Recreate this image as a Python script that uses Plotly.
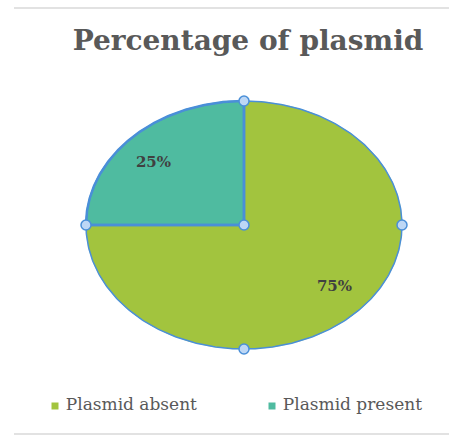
import numpy as np
import plotly.graph_objects as go

categories = ["Plasmid absent", "Plasmid present"]
values = [75, 25]
colors = ["#A2C43E", "#4FBBA0"]
title_text = "Percentage of plasmid"

W, H = 449, 437
cx, cy, rx, ry = 244, 225, 158, 124
edge = "#4A8FD8"

fig = go.Figure()

total = sum(values)
start = 0.0
label_pos = []
for i, (cat, v) in enumerate(zip(categories, values)):
    a0 = start / total * 2 * np.pi
    a1 = (start + v) / total * 2 * np.pi
    t = np.linspace(a0, a1, 200)
    xs = np.concatenate([[cx], cx + rx * np.sin(t), [cx]])
    ys = np.concatenate([[cy], cy - ry * np.cos(t), [cy]])
    is_sel = (i == 1)
    fig.add_trace(go.Scatter(
        x=xs, y=ys, mode="lines", fill="toself", fillcolor=colors[i],
        line=dict(color=edge if is_sel else colors[i], width=2.5 if is_sel else 0.5),
        name=cat, showlegend=False, hoverinfo="name"))
    am = (a0 + a1) / 2
    label_pos.append((cx + 0.81 * rx * np.sin(am), cy - 0.71 * ry * np.cos(am),
                      f"{v / total * 100:.0f}%"))
    start += v

# ellipse outline
t = np.linspace(0, 2 * np.pi, 400)
fig.add_trace(go.Scatter(x=cx + rx * np.sin(t), y=cy - ry * np.cos(t), mode="lines",
                         line=dict(color=edge, width=1.5), showlegend=False, hoverinfo="skip"))
# selected slice edges on top
fig.add_trace(go.Scatter(x=[cx - rx, cx, cx], y=[cy, cy, cy - ry], mode="lines",
                         line=dict(color=edge, width=2.5), showlegend=False, hoverinfo="skip"))

# labels
fig.add_trace(go.Scatter(
    x=[p[0] for p in label_pos], y=[p[1] for p in label_pos], mode="text",
    text=[p[2] for p in label_pos],
    textfont=dict(family="DejaVu Serif", size=15, color="#404040", weight="bold"),
    showlegend=False, hoverinfo="skip"))

# selection handles
fig.add_trace(go.Scatter(
    x=[cx, cx - rx, cx, cx + rx, cx], y=[cy - ry, cy, cy, cy, cy + ry], mode="markers",
    marker=dict(size=10, color="#BDD7F5", line=dict(color=edge, width=1.5)),
    showlegend=False, hoverinfo="skip"))

# legend (drawn manually for exact placement)
leg_y = 406
leg_marker_x = [55, 272]
fig.add_trace(go.Scatter(
    x=leg_marker_x, y=[leg_y] * len(categories), mode="markers+text",
    marker=dict(symbol="square", size=7, color=colors),
    text=[" " + c for c in categories], textposition="middle right",
    textfont=dict(family="DejaVu Serif", size=17, color="#595959"),
    showlegend=False, hoverinfo="skip", cliponaxis=False))

fig.update_layout(
    width=W, height=H,
    margin=dict(l=0, r=0, t=0, b=0),
    paper_bgcolor="white", plot_bgcolor="white",
    showlegend=False,
    title=dict(text=title_text, x=248 / W, xanchor="center", y=1 - 40 / H, yanchor="middle",
               font=dict(family="DejaVu Serif", size=28, color="#595959", weight="bold")),
    xaxis=dict(range=[0, W], visible=False, fixedrange=True),
    yaxis=dict(range=[H, 0], visible=False, fixedrange=True),
    shapes=[
        dict(type="line", xref="paper", yref="paper", x0=14 / W, x1=1, y0=1 - 8 / H, y1=1 - 8 / H,
             line=dict(color="#D9D9D9", width=1.5)),
        dict(type="line", xref="paper", yref="paper", x0=14 / W, x1=1, y0=1 - 434 / H, y1=1 - 434 / H,
             line=dict(color="#D9D9D9", width=1.5)),
    ],
)

fig.write_html("out.html")
